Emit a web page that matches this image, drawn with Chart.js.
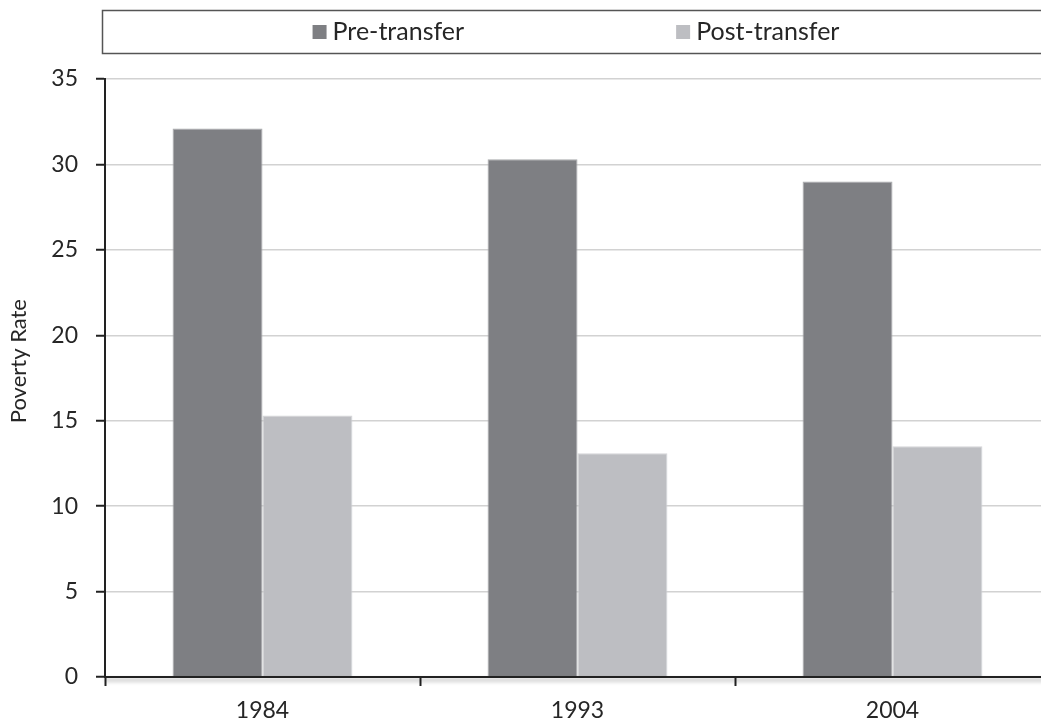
<!DOCTYPE html>
<html>
<head>
<meta charset="utf-8">
<script src="https://cdn.jsdelivr.net/npm/chart.js@4.4.0/dist/chart.umd.min.js"></script>
<style>
  html, body { margin: 0; padding: 0; background: #fff; overflow: hidden; }
  #wrap { width: 1041px; height: 723px; overflow: hidden; position: relative; }
  #box { width: 1050px; height: 723px; position: absolute; left: 0; top: 0; }
</style>
</head>
<body>
<div id="wrap">
  <div id="box"><canvas id="myChart"></canvas></div>
</div>
<script>
// chart data
var years = ["1984", "1993", "2004"];
var preTransfer = [32.1, 30.3, 29.0];
var postTransfer = [15.3, 13.1, 13.5];
var seriesNames = ["Pre-transfer", "Post-transfer"];
var yTicks = [0, 5, 10, 15, 20, 25, 30, 35];

var FONT = "Lato";
var TEXT = "#262626";

// legend drawn inside a framed box above the plot
var boxLegend = {
  id: "boxLegend",
  afterDraw: function (chart) {
    var ctx = chart.ctx;
    ctx.save();
    ctx.strokeStyle = "#555";
    ctx.lineWidth = 1.5;
    ctx.strokeRect(102.5, 10.5, 1000, 43);

    ctx.font = "25px " + FONT;
    ctx.textBaseline = "middle";
    var sq = 14, gapTxt = 6, gapItem = 212;
    var items = chart.data.datasets.map(function (ds) {
      return { text: ds.label, color: ds.backgroundColor, w: sq + gapTxt + ctx.measureText(ds.label).width };
    });
    var total = items[0].w + gapItem + items[1].w;
    var x = (102 + 1050) / 2 - total / 2;
    var cy = 32;
    items.forEach(function (it) {
      ctx.fillStyle = it.color;
      ctx.fillRect(x, cy - sq / 2, sq, sq);
      ctx.fillStyle = TEXT;
      ctx.fillText(it.text, x + sq + gapTxt, cy);
      x += it.w + gapItem;
    });
    ctx.restore();
  },
};

// soft shadow under the x axis line
var axisShadow = {
  id: "axisShadow",
  afterDraw: function (chart) {
    var ctx = chart.ctx;
    var a = chart.chartArea;
    ctx.save();
    ctx.strokeStyle = "#222";
    ctx.lineWidth = 2;
    ctx.shadowColor = "rgba(0,0,0,0.35)";
    ctx.shadowBlur = 4;
    ctx.shadowOffsetY = 3;
    ctx.beginPath();
    ctx.moveTo(a.left, a.bottom);
    ctx.lineTo(a.right, a.bottom);
    ctx.stroke();
    ctx.restore();
  },
};

var myChart = document.getElementById("myChart").getContext("2d");
var chart = new Chart(myChart, {
  type: "bar",
  data: {
    labels: years,
    datasets: [
      {
        label: seriesNames[0],
        data: preTransfer,
        backgroundColor: "#7e7f83",
        borderColor: "#a9aaad",
        borderWidth: 1,
        categoryPercentage: 0.571,
        barPercentage: 1,
      },
      {
        label: seriesNames[1],
        data: postTransfer,
        backgroundColor: "#bdbec2",
        borderColor: "#d4d5d8",
        borderWidth: 1,
        categoryPercentage: 0.571,
        barPercentage: 1,
      },
    ],
  },
  options: {
    responsive: true,
    maintainAspectRatio: false,
    animation: false,
    layout: { padding: { top: 79, left: 0, right: 0, bottom: 0 } },
    plugins: {
      legend: { display: false },
      tooltip: { enabled: false },
    },
    scales: {
      x: {
        afterFit: function (scale) { scale.height = 46; },
        grid: {
          offset: true,
          drawOnChartArea: false,
          drawTicks: true,
          tickLength: 9,
          tickColor: "#222",
          tickWidth: 2,
        },
        border: { color: "#222", width: 2 },
        ticks: { color: TEXT, font: { family: FONT, size: 23 }, padding: 11 },
      },
      y: {
        min: 0,
        max: 35,
        afterFit: function (scale) { scale.width = 105; },
        afterBuildTicks: function (scale) {
          scale.ticks = yTicks.map(function (v) { return { value: v }; });
        },
        grid: {
          color: "#d2d2d2",
          lineWidth: 1.5,
          tickLength: 9,
          tickColor: "#222",
          tickWidth: 2,
        },
        border: { color: "#222", width: 2 },
        ticks: { color: TEXT, font: { family: FONT, size: 23 }, padding: 18 },
        title: {
          display: true,
          text: "      Poverty Rate",
          color: TEXT,
          font: { family: FONT, size: 22 },
          padding: { top: 6, bottom: 0 },
        },
      },
    },
  },
  plugins: [boxLegend, axisShadow],
});
</script>
</body>
</html>
